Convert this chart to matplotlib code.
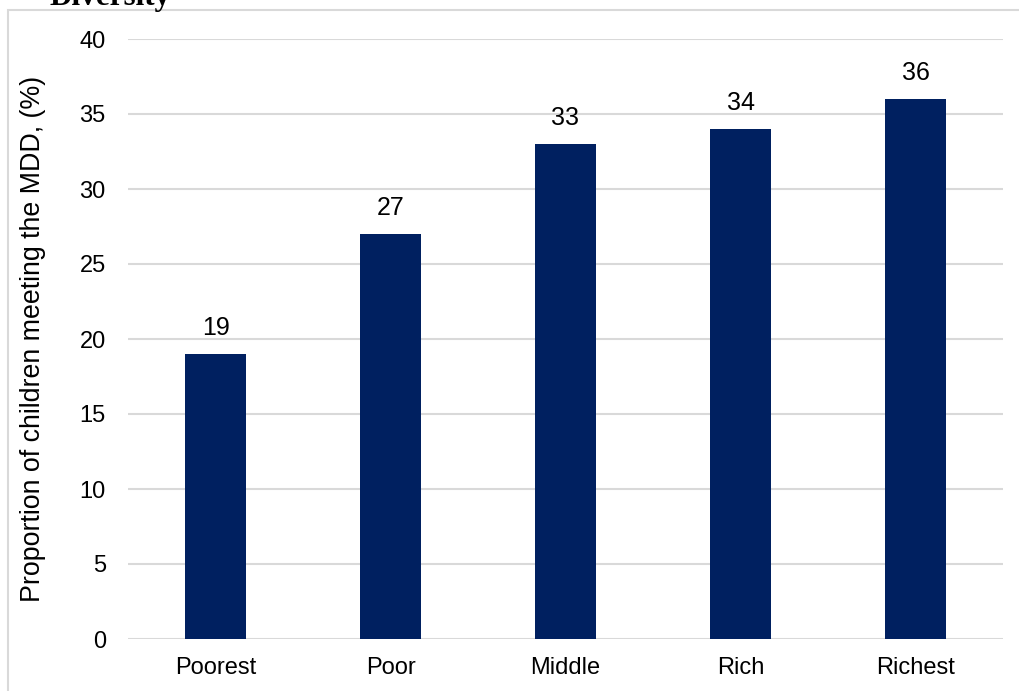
import matplotlib
matplotlib.use("Agg")
import matplotlib.pyplot as plt
from matplotlib.patches import Rectangle

# wealth quintiles and share of children meeting minimum dietary diversity
quintiles = ["Poorest", "Poor", "Middle", "Rich", "Richest"]
mdd_pct = [19, 27, 33, 34, 36]
yticks = [0, 5, 10, 15, 20, 25, 30, 35, 40]

plt.rcParams['font.family'] = ['Liberation Sans', 'DejaVu Sans']

W, H = 1020, 691
fig = plt.figure(figsize=(W / 100, H / 100), dpi=100)
ax = fig.add_axes([128 / W, 1 - 639 / H, 875 / W, 600 / H])

x = range(len(quintiles))
bars = ax.bar(x, mdd_pct, width=0.35, color='#002060', zorder=3)
for b, v in zip(bars, mdd_pct):
    ax.text(b.get_x() + b.get_width() / 2, v + 0.95, str(v),
            ha='center', va='bottom', fontsize=18, color='#000000')

ax.set_xlim(-0.5, len(quintiles) - 0.5)
ax.set_ylim(0, 40)
ax.set_yticks(yticks)
ax.set_xticks(list(x))
ax.set_xticklabels(quintiles)
ax.tick_params(axis='both', length=0, labelsize=17, colors='#000000')
ax.tick_params(axis='y', pad=16)
ax.tick_params(axis='x', pad=13)
ax.grid(axis='y', color='#d9d9d9', linewidth=1.5, zorder=0)
for s in ax.spines.values():
    s.set_visible(False)
ax.set_ylabel("Proportion of children meeting the MDD, (%)", fontsize=19.3)
ax.yaxis.set_label_coords(-82 / 875, 0.5)

# outer chart border and the tail of the caption above it
fig.patches.append(Rectangle((8 / W, -0.1), 1.2, 1 - 10 / H + 0.1,
                             transform=fig.transFigure, fill=False,
                             edgecolor='#d9d9d9', linewidth=1.5))
fig.text(50 / W, 1 - 5 / H, "Diversity", fontsize=22.5, fontweight='bold',
         family='Liberation Serif', ha='left', va='baseline')

fig.savefig("out.png", dpi=100)
